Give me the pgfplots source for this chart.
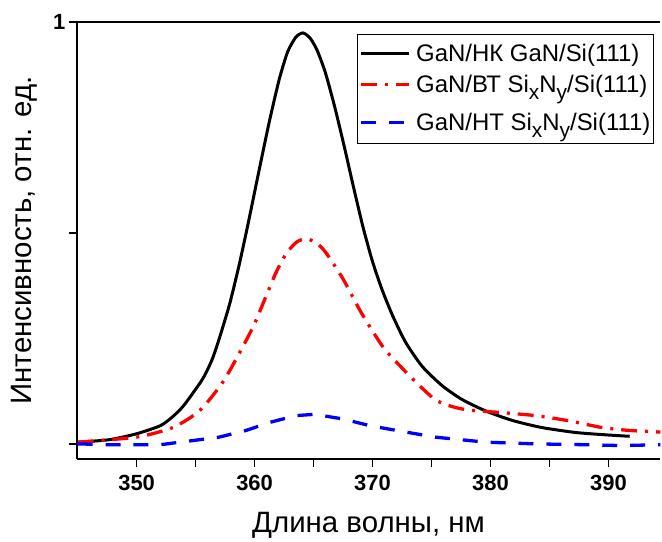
\documentclass[border=0pt]{standalone}
\usepackage{pgfplots}
\pgfplotsset{compat=1.18}
\usepackage{fontspec}
\setmainfont{Liberation Sans}
\newcommand{\sub}[1]{\raisebox{-7pt}{\fontsize{21}{21}\selectfont #1}}

\pgfplotstableread{
x y
345.0 0.004
347.7 0.010
350.0 0.024
352.0 0.043
353.0 0.063
354.0 0.091
355.6 0.154
356.4 0.200
357.0 0.249
357.9 0.333
358.7 0.425
359.4 0.515
360.1 0.610
360.7 0.691
361.3 0.770
362.1 0.865
362.8 0.929
363.5 0.964
364.1 0.974
364.7 0.962
365.3 0.933
366.0 0.880
366.8 0.798
367.6 0.705
368.4 0.607
369.2 0.513
370.0 0.432
370.8 0.366
371.7 0.304
372.8 0.241
374.2 0.184
375.9 0.138
377.6 0.105
379.6 0.078
381.8 0.056
384.3 0.039
387.2 0.027
390.0 0.021
391.8 0.018
}\hkdata

\pgfplotstableread{
x y
345.0 0.004
350.0 0.016
353.1 0.039
355.35 0.079
357.3 0.146
359.0 0.230
360.0 0.285
360.9 0.345
361.8 0.405
362.7 0.452
363.6 0.479
364.4 0.486
365.2 0.477
366.0 0.455
367.5 0.391
368.9 0.318
369.9 0.272
371.1 0.222
373.4 0.154
375.3 0.105
376.8 0.088
378.2 0.080
381.0 0.074
383.8 0.067
386.6 0.055
389.4 0.039
391.7 0.032
394.4 0.028
}\btdata

\pgfplotstableread{
x y
345.0 0.000
347.7 -0.002
352.0 -0.002
354.8 0.008
357.0 0.016
359.3 0.032
361.3 0.051
363.5 0.067
365.1 0.070
367.5 0.059
369.8 0.043
372.0 0.032
375.3 0.016
379.6 0.004
383.8 0.000
388.0 -0.002
391.1 -0.004
394.4 -0.002
}\htdata

\begin{document}
\begin{tikzpicture}
\begin{axis}[
    name=ax,
    scale only axis,
    width=585pt, height=438pt,
    xmin=344.93, xmax=394.4,
    ymin=-0.0355, ymax=1.0,
    axis x line*=bottom,
    axis y line*=left,
    axis line style={line width=1.6pt},
    xtick={350,360,370,380,390},
    minor x tick num=1,
    ytick={0,0.5,1},
    yticklabels={,,1},
    tick align=outside,
    major tick length=8pt,
    minor tick length=8pt,
    tick style={line width=1.3pt, black},
    /pgf/number format/assume math mode=true,
    tick label style={font=\fontsize{22}{26}\selectfont\bfseries},
    x tick label style={yshift=-5pt},
    xlabel={Длина волны, нм},
    ylabel={Интенсивность, отн. ед.},
    label style={font=\fontsize{29.5}{33}\selectfont},
    xlabel style={at={(axis description cs:0.5,0)}, anchor=north, yshift=-50pt},
    ylabel style={at={(axis description cs:-0.068,0.5)}, anchor=south, inner sep=0pt},
    clip=false,
    legend cell align=left,
    legend style={at={(rel axis cs:1,1)}, anchor=north east, xshift=-6pt, yshift=-12pt,
        draw=black, line width=1pt, inner xsep=2pt, inner ysep=1pt,
        font=\fontsize{24}{28}\selectfont,
        cells={anchor=base west},
        nodes={inner xsep=1.5pt, inner ysep=0pt, text depth=},
        /tikz/every odd column/.append style={column sep=4pt},
        row sep=0pt},
    legend image code/.code={\draw[#1] (0pt,8.6pt) -- (48pt,8.6pt);},
]
\addplot[black, line width=3pt, smooth, tension=0.4] table[x=x,y=y] {\hkdata};
\addlegendentry{\rule[-12pt]{0pt}{38.6pt}GaN/НК GaN/Si(111)}
\addplot[red, line width=3.3pt, smooth, tension=0.4,
    dash pattern=on 16pt off 8pt on 3pt off 8pt] table[x=x,y=y] {\btdata};
\addlegendentry{\rule[-19pt]{0pt}{38pt}GaN/ВТ Si\sub{x}N\sub{y}/Si(111)}
\addplot[blue, line width=3.3pt, dash pattern=on 15pt off 13pt] table[x=x,y=y] {\htdata};
\addlegendentry{\rule[-10pt]{0pt}{29pt}GaN/НТ Si\sub{x}N\sub{y}/Si(111)}
\draw[line width=1.6pt] (rel axis cs:0,1) -- (rel axis cs:1,1);
\end{axis}
\path ([xshift=-77pt,yshift=-80pt]ax.south west) rectangle ([yshift=22pt]ax.north east);
\end{tikzpicture}
\end{document}
